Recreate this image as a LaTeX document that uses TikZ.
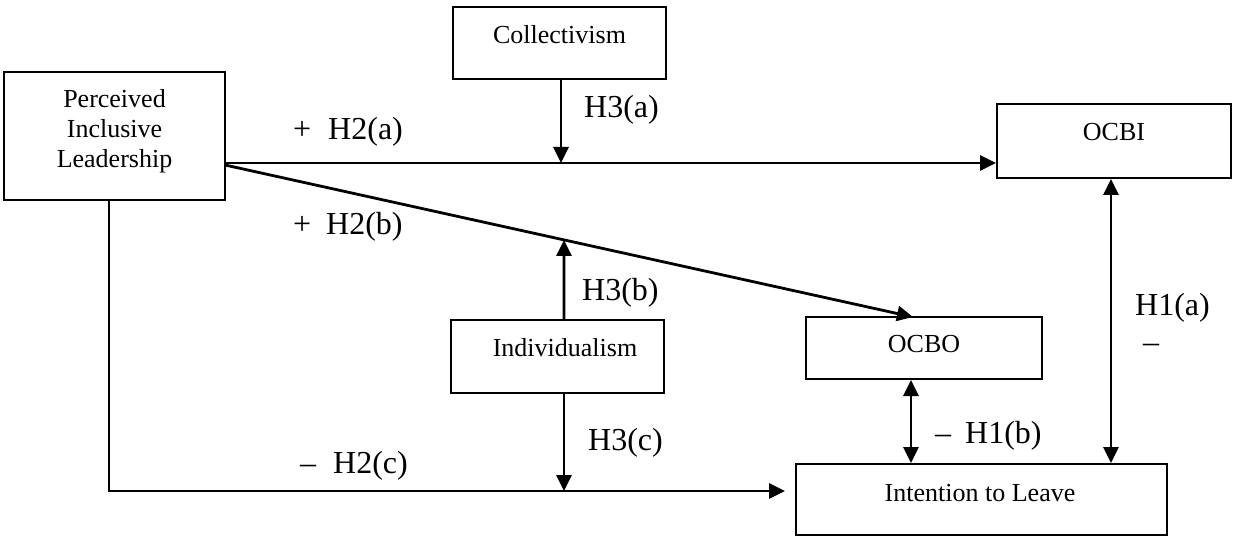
\documentclass[tikz,border=0pt]{standalone}
\usepackage{fontspec}
\setmainfont{Liberation Serif}
\usetikzlibrary{arrows.meta,calc}
\tikzset{
  box/.style={draw, line width=2pt, inner sep=0pt},
  boxtxt/.style={inner sep=0pt, align=center, font=\fontsize{26}{30}\selectfont},
  lab/.style={inner sep=0pt, anchor=base west, font=\fontsize{32}{36}\selectfont},
  sym/.style={inner sep=0pt, font=\fontsize{32}{36}\selectfont},
  arr/.style={line width=2.8pt, -{Triangle[length=16pt,width=15pt]}},
  darr/.style={line width=2.8pt, {Triangle[length=16pt,width=15pt]}-{Triangle[length=16pt,width=15pt]}},
}
\begin{document}
\begin{tikzpicture}[x=1pt,y=-1pt]
\useasboundingbox (0,0) rectangle (1233,537);
% boxes
\node[box, minimum width=221pt, minimum height=128pt] (pil) at (114.5,136) {};
\node[boxtxt] (pilT) at (114.5,131) {Perceived\\Inclusive\\Leadership};
\node[box, minimum width=213pt, minimum height=72pt] (col) at (559.5,43) {};
\node[boxtxt] (colT) at (559.5,35) {Collectivism};
\node[box, minimum width=234pt, minimum height=74pt] (ocbi) at (1114,141) {};
\node[boxtxt] (ocbiT) at (1114,132) {OCBI};
\node[box, minimum width=213pt, minimum height=73pt] (ind) at (557.5,356.5) {};
\node[boxtxt] (indT) at (565,348) {Individualism};
\node[box, minimum width=236pt, minimum height=62pt] (ocbo) at (924,348) {};
\node[boxtxt] (ocboT) at (924,344) {OCBO};
\node[box, minimum width=371pt, minimum height=71pt] (itl) at (981.5,499.5) {};
\node[boxtxt] (itlT) at (980,493) {Intention to Leave};
% attachment points
\coordinate (pa) at (225,163);
\coordinate (pb) at (225,165);
\coordinate (ob) at (913,317);
\coordinate (cx) at (561,163);
\coordinate (ix) at (564,0);
\coordinate (elb) at (109,491);
\coordinate (h1a) at (1111,0);
\coordinate (h1b) at (911,0);
\coordinate (iu) at ($(pb)!0.4927!(ob)$);
% connectors
\draw[arr] (pa) -- (pa -| ocbi.west);
\draw[arr] (pb) -- (ob);
\draw[arr] (col.south -| cx) -- (cx);
\draw[arr] (ind.north -| ix) -- (iu);
\draw[arr] (ind.south -| ix) -- (elb -| ix);
\draw[arr] (pil.south -| elb) -- (elb) -- ([xshift=-10pt]itl.west |- elb);
\draw[darr] (ocbi.south -| h1a) -- (itl.north -| h1a);
\draw[darr] (ocbo.south -| h1b) -- (itl.north -| h1b);
% labels
\node[lab] (l2a) at (293,140) {+\hspace{17pt}H2(a)};
\node[lab] (l2b) at (293,235) {+\hspace{15pt}H2(b)};
\node[lab] (l2c) at (300,473) {–\hspace{17pt}H2(c)};
\node[lab] (l3a) at (584,118) {H3(a)};
\node[lab] (l3b) at (582,300) {H3(b)};
\node[lab] (l3c) at (588,450) {H3(c)};
\node[lab] (l1b) at (935,443) {–\hspace{14pt}H1(b)};
\node[lab] (l1a) at (1135,315) {H1(a)};
\node[sym] (l1am) at (1151,348) {–};
\end{tikzpicture}
\end{document}
